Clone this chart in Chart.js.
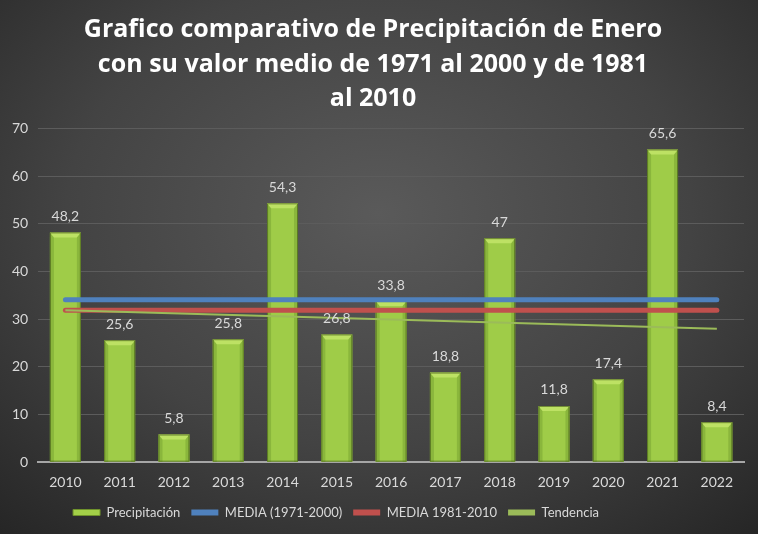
<!DOCTYPE html>
<html>
<head>
<meta charset="utf-8">
<script src="https://cdn.jsdelivr.net/npm/chart.js@4"></script>
<style>
  html, body { margin: 0; padding: 0; }
  body {
    width: 758px; height: 534px; overflow: hidden;
    background: radial-gradient(ellipse 75% 80% at 50% 40%, #5a5a5a 0%, #434343 55%, #262626 100%);
  }
  #wrap { position: relative; width: 758px; height: 534px; }
</style>
</head>
<body>
<div id="wrap"><canvas id="chart"></canvas></div>
<script>
const years = ['2010', '2011', '2012', '2013', '2014', '2015', '2016', '2017', '2018', '2019', '2020', '2021', '2022'];
const precipitacion = [48.2, 25.6, 5.8, 25.8, 54.3, 26.8, 33.8, 18.8, 47, 11.8, 17.4, 65.6, 8.4];
const media7100 = [34.1, 34.1, 34.1, 34.1, 34.1, 34.1, 34.1, 34.1, 34.1, 34.1, 34.1, 34.1, 34.1];
const media8110 = [31.9, 31.9, 31.9, 31.9, 31.9, 31.9, 31.9, 31.9, 31.9, 31.9, 31.9, 31.9, 31.9];
const tendencia = [31.9, null, null, null, null, null, null, null, null, null, null, null, 28.0];
const yTicks = [0, 10, 20, 30, 40, 50, 60, 70];

const titleLines = [
  'Grafico comparativo de Precipitación de Enero',
  'con su valor medio de 1971 al 2000 y de 1981',
  'al 2010'
];

const FONT = 'Lato';
const TITLE_FONT = 'Open Sans';
const textColor = '#d9d9d9';

// bevel look: darker sides, lighter top
const barExtras = {
  id: 'barExtras',
  afterLayout(chart) {
    // the legend in the original sits a bit left of centre
    chart.legend.left -= 37;
    chart.legend.right -= 37;
  },
  afterDatasetDraw(chart, args) {
    if (args.index !== 0) return;
    const ctx = chart.ctx;
    const meta = chart.getDatasetMeta(0);
    meta.data.forEach((bar) => {
      const w = bar.width, l = bar.x - w / 2, r = bar.x + w / 2, t = bar.y, b = bar.base;
      const e = 4;
      ctx.save();
      ctx.fillStyle = '#8ab63c';
      ctx.beginPath();
      ctx.moveTo(l, t); ctx.lineTo(l + e, t + e); ctx.lineTo(l + e, b); ctx.lineTo(l, b);
      ctx.closePath(); ctx.fill();
      ctx.beginPath();
      ctx.moveTo(r, t); ctx.lineTo(r - e, t + e); ctx.lineTo(r - e, b); ctx.lineTo(r, b);
      ctx.closePath(); ctx.fill();
      ctx.fillStyle = '#bde164';
      ctx.beginPath();
      ctx.moveTo(l, t); ctx.lineTo(r, t); ctx.lineTo(r - e, t + e + 1); ctx.lineTo(l + e, t + e + 1);
      ctx.closePath(); ctx.fill();
      ctx.strokeStyle = 'rgba(60, 80, 20, 0.6)';
      ctx.lineWidth = 1;
      ctx.strokeRect(l + 0.5, t + 0.5, w - 1, b - t - 1);
      ctx.restore();
    });
  },
  afterDatasetsDraw(chart) {
    const ctx = chart.ctx;
    const meta = chart.getDatasetMeta(0);
    ctx.save();
    ctx.font = '14px "' + FONT + '"';
    ctx.fillStyle = textColor;
    ctx.textAlign = 'center';
    ctx.textBaseline = 'bottom';
    meta.data.forEach((bar, i) => {
      const label = String(precipitacion[i]).replace('.', ',');
      ctx.fillText(label, bar.x, bar.y - 9);
    });
    ctx.restore();
  }
};

new Chart(document.getElementById('chart'), {
  data: {
    labels: years,
    datasets: [
      {
        type: 'bar',
        label: 'Precipitación',
        data: precipitacion,
        backgroundColor: '#9fcc48',
        borderWidth: 0,
        barPercentage: 0.57,
        categoryPercentage: 1,
        order: 4
      },
      {
        type: 'line',
        label: 'MEDIA (1971-2000)',
        data: media7100,
        borderColor: '#4f81bd',
        backgroundColor: '#4f81bd',
        borderWidth: 5,
        borderCapStyle: 'round',
        pointRadius: 0,
        order: 2
      },
      {
        type: 'line',
        label: 'MEDIA 1981-2010',
        data: media8110,
        borderColor: '#c0504d',
        backgroundColor: '#c0504d',
        borderWidth: 5,
        borderCapStyle: 'round',
        pointRadius: 0,
        order: 1
      },
      {
        type: 'line',
        label: 'Tendencia',
        data: tendencia,
        borderColor: '#9bbb59',
        backgroundColor: '#9bbb59',
        borderWidth: 2,
        spanGaps: true,
        pointRadius: 0,
        order: 0
      }
    ]
  },
  options: {
    responsive: true,
    maintainAspectRatio: false,
    animation: false,
    layout: { padding: { left: 2, right: 14, top: 4, bottom: 5 } },
    plugins: {
      title: {
        display: true,
        text: titleLines,
        color: '#ffffff',
        font: { family: TITLE_FONT, size: 25, weight: 'bold', lineHeight: 1.38 },
        padding: { top: 9, bottom: 12 }
      },
      legend: {
        position: 'bottom',
        labels: {
          color: textColor,
          font: { family: FONT, size: 13 },
          boxWidth: 27,
          boxHeight: 6,
          padding: 11,
          generateLabels(chart) {
            return chart.data.datasets.map((ds, i) => ({
              text: ds.label,
              fillStyle: i === 0 ? '#a3d048' : ds.borderColor,
              strokeStyle: i === 0 ? '#6f922c' : ds.borderColor,
              lineWidth: i === 0 ? 1 : 0,
              datasetIndex: i,
              fontColor: textColor
            }));
          }
        }
      },
      tooltip: { enabled: false }
    },
    scales: {
      x: {
        grid: { display: false },
        border: { color: '#a6a6a6', width: 2 },
        ticks: { color: textColor, font: { family: FONT, size: 14 }, padding: 4 }
      },
      y: {
        min: 0,
        max: 70,
        afterBuildTicks(axis) { axis.ticks = yTicks.map(v => ({ value: v })); },
        grid: { color: '#5c5c5c', lineWidth: 1, drawTicks: false },
        border: { display: false },
        ticks: { color: textColor, font: { family: FONT, size: 14 }, padding: 10 }
      }
    }
  },
  plugins: [barExtras]
});
</script>
</body>
</html>
